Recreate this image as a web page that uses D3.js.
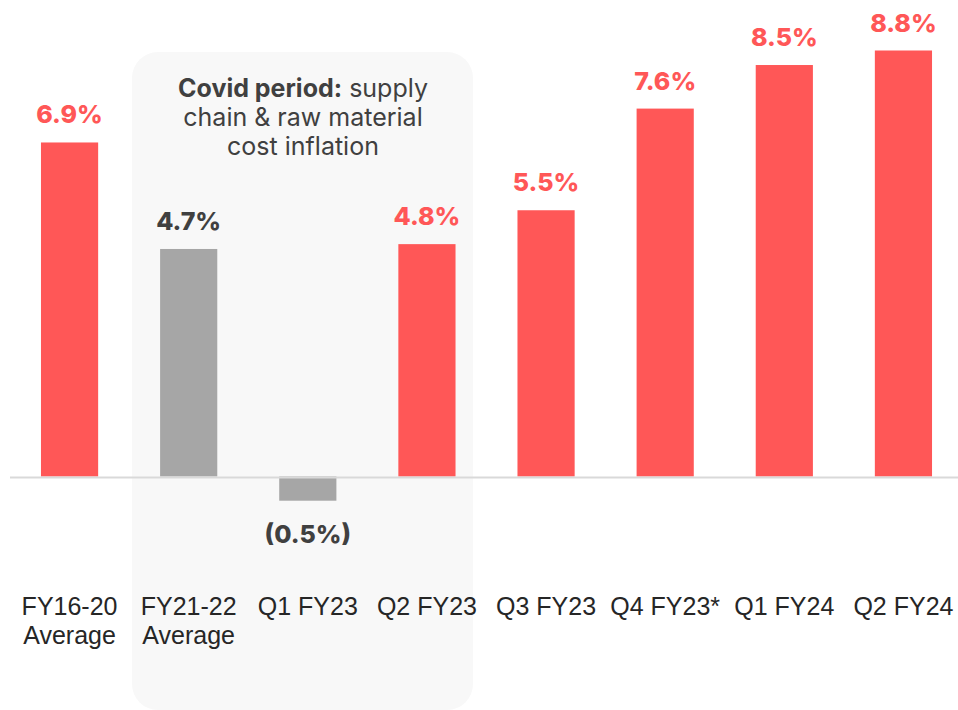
<!DOCTYPE html>
<html>
<head>
<meta charset="utf-8">
<script src="https://cdn.jsdelivr.net/npm/d3@7"></script>
<style>
  body { margin: 0; background: #fff; }
  svg { display: block; }
</style>
</head>
<body>
<svg id="graph" width="958" height="710"></svg>
<script>
// categorias y valores (%)
var categorias = ["FY16-20|Average", "FY21-22|Average", "Q1 FY23", "Q2 FY23", "Q3 FY23", "Q4 FY23*", "Q1 FY24", "Q2 FY24"];
var valores = [6.9, 4.7, -0.5, 4.8, 5.5, 7.6, 8.5, 8.8];
var etiquetas = ["6.9%", "4.7%", "(0.5%)", "4.8%", "5.5%", "7.6%", "8.5%", "8.8%"];
var covid = [false, true, true, false, false, false, false, false];
var notaCovid = [["Covid period:", " supply"], ["", "chain & raw material"], ["", "cost inflation"]];

var rojo = "#ff5757", gris = "#a6a6a6", textoOscuro = "#404040";
var fuenteValor = "Inter, 'Open Sans', sans-serif";

function creaGrafica() {
    var svg = d3.select("#graph");

    var x = d3.scaleBand()
        .domain(categorias)
        .range([10, 963])
        .paddingInner(0.52)
        .paddingOuter(0.26);
    var y = d3.scaleLinear()
        .domain([0, 8.8])
        .range([476.5, 50.5]);

    // caja gris del periodo covid
    svg.append("rect")
        .attr("x", 132).attr("y", 52)
        .attr("width", 341).attr("height", 658)
        .attr("rx", 26).attr("ry", 26)
        .attr("fill", "#f8f8f8");

    // texto de la caja
    var nota = svg.append("text")
        .attr("x", 303)
        .attr("text-anchor", "middle")
        .attr("fill", textoOscuro)
        .style("font-family", fuenteValor)
        .style("font-size", "25px");
    notaCovid.forEach((l, i) => {
        var t = nota.append("tspan").attr("x", 303).attr("y", 97 + i * 29);
        if (l[0]) t.append("tspan").style("font-weight", 700).text(l[0]);
        t.append("tspan").style("font-weight", 400).text(l[1]);
    });

    var datos = categorias.map((c, i) => ({ cat: c, v: valores[i], lab: etiquetas[i], covid: covid[i] }));

    // barras
    svg.append("g").selectAll("rect")
        .data(datos)
        .enter()
        .append("rect")
        .attr("x", d => x(d.cat))
        .attr("width", x.bandwidth())
        .attr("y", d => Math.min(y(d.v), y(0)))
        .attr("height", d => Math.abs(y(d.v) - y(0)))
        .attr("fill", d => d.covid ? gris : rojo);

    // linea base
    svg.append("line")
        .attr("x1", 10).attr("x2", 958)
        .attr("y1", y(0) + 1).attr("y2", y(0) + 1)
        .attr("stroke", "#d9d9d9")
        .attr("stroke-width", 2);

    // etiquetas de valor
    svg.append("g").selectAll("text")
        .data(datos)
        .enter()
        .append("text")
        .attr("x", d => x(d.cat) + x.bandwidth() / 2)
        .attr("y", d => d.v >= 0 ? y(d.v) - 19 : y(d.v) + 42)
        .attr("text-anchor", "middle")
        .attr("fill", d => d.covid ? textoOscuro : rojo)
        .style("font-family", fuenteValor)
        .style("font-weight", 800)
        .style("font-size", "25px")
        .text(d => d.lab);

    // etiquetas del eje x
    var ejeX = svg.append("g").selectAll("text")
        .data(datos)
        .enter()
        .append("text")
        .attr("text-anchor", "middle")
        .attr("fill", "#262626")
        .style("font-family", "'Liberation Sans', Arial, sans-serif")
        .style("font-size", "25px");
    ejeX.each(function (d) {
        var partes = d.cat.split("|");
        var cx = x(d.cat) + x.bandwidth() / 2;
        partes.forEach((p, i) => {
            d3.select(this).append("tspan")
                .attr("x", cx)
                .attr("y", 615 + i * 29)
                .text(p);
        });
    });
}

creaGrafica();
</script>
</body>
</html>
